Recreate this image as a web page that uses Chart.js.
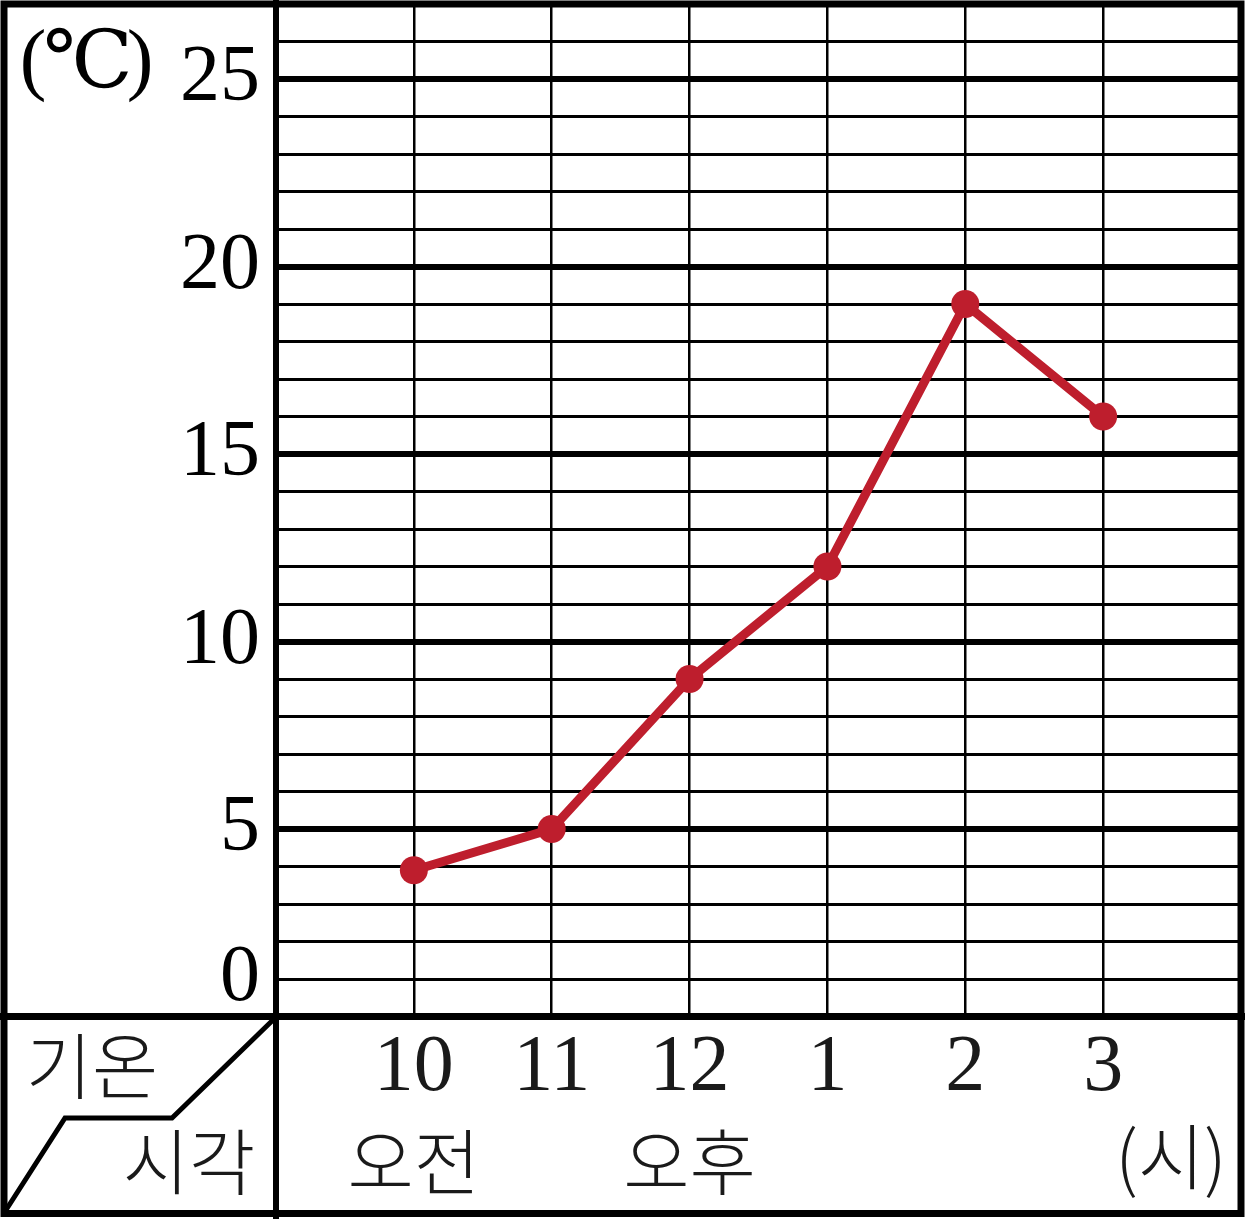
<!DOCTYPE html>
<html>
<head>
<meta charset="utf-8">
<script src="https://cdn.jsdelivr.net/npm/chart.js@4"></script>
<style>
  body { margin: 0; background: #fff; }
  canvas { display: block; }
</style>
</head>
<body>
<canvas id="graph" width="1245" height="1219"></canvas>
<script>
// 시각별 기온
const hours = ['10', '11', '12', '1', '2', '3'];
const ampm = ['오전', '', '오후', '', '', ''];
const temps = [3.9, 5, 9, 12, 19, 16];
// y 눈금 (0 은 한 칸 위에 적혀 있음)
const yTickLabels = { 1: '0', 5: '5', 10: '10', 15: '15', 20: '20', 25: '25' };

const numFont = "'Liberation Serif', 'DejaVu Serif', serif";
const korFont = "'Noto Sans CJK KR', sans-serif";
const red = '#be1e2d';

const frame = {
	id: 'frame',
	afterDraw(chart) {
		const c = chart.ctx;
		const xs = chart.scales.x;
		c.save();
		c.strokeStyle = '#000';
		c.lineCap = 'butt';

		// 바깥 테두리와 칸 나누는 선
		c.lineWidth = 7;
		c.strokeRect(4, 4, 1237, 1209.5);
		c.lineWidth = 6;
		c.beginPath();
		c.moveTo(276, 0); c.lineTo(276, 1219);
		c.stroke();
		c.lineWidth = 7;
		c.beginPath();
		c.moveTo(0, 1016.5); c.lineTo(1245, 1016.5);
		c.stroke();

		// 왼쪽 아래 칸의 꺾인 사선
		c.lineWidth = 5;
		c.lineJoin = 'miter';
		c.beginPath();
		c.moveTo(274, 1019);
		c.lineTo(172, 1118);
		c.lineTo(65, 1118);
		c.lineTo(6, 1210);
		c.stroke();

		// 글자
		c.fillStyle = '#1a1a1a';
		c.textAlign = 'center';
		c.textBaseline = 'middle';
		c.font = '300 72px ' + korFont;
		c.fillText('기온', 92, 1066);
		c.fillText('시각', 189, 1162);
		ampm.forEach((t, i) => {
			if (t) c.fillText(t, xs.getPixelForValue(i + 1), 1162);
		});
		c.fillText('(시)', 1171, 1157);

		c.fillStyle = '#000';
		c.font = '80px ' + numFont;
		c.fillText('(', 33, 64);
		c.fillText('℃', 88, 66);
		c.fillText(')', 140, 64);
		c.restore();
	}
};

const ctx = document.getElementById('graph').getContext('2d');

const myChart = new Chart(ctx, {
	type: 'line',
	data: {
		datasets: [{
			label: '기온',
			data: temps.map((t, i) => ({ x: i + 1, y: t })),
			borderColor: red,
			backgroundColor: red,
			borderWidth: 9,
			pointRadius: 14,
			pointBorderWidth: 0,
			pointBackgroundColor: red,
			tension: 0
		}]
	},
	options: {
		responsive: false,
		animation: false,
		layout: {
			autoPadding: false,
			padding: { top: 4, right: 4, left: 0, bottom: 0 }
		},
		plugins: {
			legend: { display: false },
			tooltip: { enabled: false }
		},
		scales: {
			x: {
				type: 'linear',
				min: 0,
				max: 7,
				afterFit(scale) {
					scale.height = 202.5;
					scale.paddingLeft = 0;
					scale.paddingRight = 0;
				},
				border: { display: false },
				grid: {
					drawTicks: false,
					color: (c) => (c.tick && c.tick.value >= 1 && c.tick.value <= 6) ? '#000' : 'transparent',
					lineWidth: (c) => (c.tick && c.tick.value >= 1 && c.tick.value <= 6) ? 2.5 : 0
				},
				ticks: {
					stepSize: 1,
					autoSkip: false,
					maxRotation: 0,
					padding: 4,
					color: '#1a1a1a',
					font: { family: numFont, size: 80 },
					callback: (v) => hours[v - 1] || ''
				}
			},
			y: {
				min: 0,
				max: 27,
				afterFit(scale) {
					scale.width = 276;
					scale.paddingTop = 0;
					scale.paddingBottom = 0;
				},
				border: { display: false },
				grid: {
					drawTicks: false,
					color: (c) => (c.tick && c.tick.value > 0 && c.tick.value < 27) ? '#000' : 'transparent',
					lineWidth: (c) => {
						const v = c.tick ? c.tick.value : 0;
						if (v <= 0 || v >= 27) return 0;
						return v % 5 === 0 ? 6 : 3;
					}
				},
				ticks: {
					stepSize: 1,
					autoSkip: false,
					padding: 16,
					color: '#000',
					font: { family: numFont, size: 80 },
					callback: (v) => yTickLabels[v] || ''
				}
			}
		}
	},
	plugins: [frame]
});
</script>
</body>
</html>
